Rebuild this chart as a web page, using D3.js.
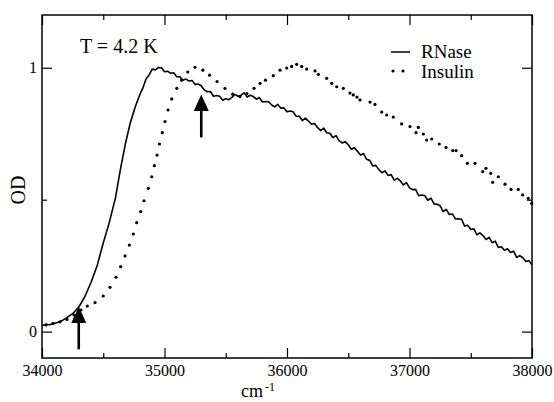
<!DOCTYPE html>
<html>
<head>
<meta charset="utf-8">
<script src="https://cdn.jsdelivr.net/npm/d3@7/dist/d3.min.js"></script>
<style>
  html, body { margin: 0; padding: 0; background: #fff; }
  svg { display: block; }
</style>
</head>
<body>
<svg id="chart" width="554" height="402"></svg>
<script>
// Wavenumber (cm^-1) and optical density of the RNase spectrum
const rnase = [
  [34000,.022],[34030,.028],[34060,.026],[34100,.031],[34150,.038],[34200,.052],[34250,.068],
  [34300,.093],[34350,.133],[34400,.186],[34450,.25],[34500,.336],[34550,.415],[34600,.508],
  [34640,.615],[34680,.71],[34720,.79],[34760,.85],[34800,.9],[34825,.925],
  [34850,.958],[34875,.973],[34900,.995],[34925,.992],[34950,1.001],[34975,1.0],[35000,.985],
  [35025,.987],[35050,.979],[35075,.981],[35100,.966],[35125,.966],[35150,.953],[35175,.957],
  [35200,.95],[35225,.952],[35250,.937],[35275,.938],[35300,.932],[35325,.916],[35350,.909],
  [35375,.91],[35400,.892],[35425,.895],[35450,.892],[35475,.877],[35500,.883],[35525,.879],
  [35550,.888],[35575,.899],[35600,.892],[35625,.896],[35650,.905],[35675,.889],[35700,.896],
  [35725,.891],[35750,.881],[35775,.887],[35800,.87],[35825,.872],[35850,.871],[35875,.859],
  [35900,.852],[35925,.861],[35950,.847],[35975,.848],[36000,.833],[36025,.836],[36050,.833],
  [36075,.816],[36100,.816],[36125,.8],[36150,.809],[36175,.798],[36200,.786],[36225,.789],
  [36250,.773],[36275,.762],[36300,.771],[36325,.754],[36350,.752],[36375,.735],[36400,.743],
  [36425,.724],[36450,.715],[36475,.72],[36500,.708],[36525,.691],[36550,.697],[36575,.684],
  [36600,.669],[36625,.675],[36650,.653],[36675,.649],[36700,.628],[36725,.63],[36750,.614],
  [36775,.602],[36800,.609],[36825,.592],[36850,.595],[36875,.574],[36900,.581],[36925,.571],
  [36950,.556],[36975,.565],[37000,.545],[37025,.538],[37050,.539],[37075,.515],[37100,.518],
  [37125,.515],[37150,.498],[37175,.506],[37200,.484],[37225,.483],[37250,.477],[37275,.455],
  [37300,.463],[37325,.444],[37350,.446],[37375,.427],[37400,.428],[37425,.426],[37450,.4],
  [37475,.403],[37500,.387],[37525,.39],[37550,.367],[37575,.374],[37600,.364],[37625,.349],
  [37650,.357],[37675,.337],[37700,.343],[37725,.319],[37750,.322],[37775,.308],[37800,.314],
  [37825,.3],[37850,.305],[37875,.281],[37900,.288],[37925,.28],[37950,.266],[37975,.269],
  [38000,.253]
];

// Wavenumber (cm^-1) and optical density of the Insulin spectrum (dotted trace)
const insulin = [
  [34033,.025],[34090,.031],[34147,.037],[34204,.046],[34261,.063],[34318,.082],[34370,.097],
  [34433,.11],[34500,.135],[34555,.168],[34604,.206],[34642,.246],[34678,.287],[34713,.328],
  [34745,.37],[34773,.413],[34806,.455],[34833,.496],[34868,.543],[34896,.587],[34917,.629],
  [34939,.669],[34959,.711],[34982,.754],[35004,.796],[35029,.84],[35059,.882],[35100,.922],
  [35140,.953],[35190,.984],[35249,1.002],[35313,.991],[35368,.972],[35429,.948],[35494,.922],
  [35557,.9],[35616,.891],[35673,.902],[35731,.922],[35780,.941],[35824,.953],[35888,.97],
  [35943,.991],[35998,.999],[36038,1.005],[36079,1.013],[36120,1.005],[36161,.995],[36229,.988],
  [36256,.975],[36324,.96],[36365,.941],[36406,.928],[36460,.922],[36514,.904],[36541,.897],
  [36571,.889],[36596,.878],[36678,.87],[36718,.861],[36773,.832],[36814,.821],[36868,.813],
  [36936,.787],[37004,.777],[37053,.754],[37072,.774],[37113,.749],[37140,.726],[37181,.73],
  [37243,.711],[37298,.698],[37353,.686],[37380,.686],[37426,.667],[37472,.638],[37535,.638],
  [37598,.606],[37624,.619],[37663,.6],[37679,.566],[37725,.587],[37780,.559],[37829,.539],
  [37888,.539],[37924,.518],[37970,.505],[37998,.486]
];

const xMajorTicks = [34000, 35000, 36000, 37000, 38000];
const xMinorTicks = [34500, 35500, 36500, 37500];
const yMajorTicks = [0, 1];
const yMinorTicks = [0.5];

// Arrows marking features of the spectra: [wavenumber, tail OD, tip OD]
const arrows = [[34300, -0.067, 0.095], [35300, 0.736, 0.899]];

const seriesNames = ["RNase", "Insulin"];

const SERIF = "Liberation Serif, DejaVu Serif, Noto Serif, Tinos, FreeSerif, Nimbus Roman, Times New Roman, Times, serif";

const svg = d3.select("#chart").style("font-family", SERIF);
const margin = { left: 42, right: 22, top: 15, bottom: 44 };
const W = 554, H = 402;

const x = d3.scaleLinear().domain([34000, 38000]).range([margin.left, W - margin.right]);
const y = d3.scaleLinear().domain([-0.1, 1.2]).range([H - margin.bottom, margin.top]);

const x0 = x.range()[0], x1 = x.range()[1], y0 = y.range()[0], y1 = y.range()[1];

function styleAxis(g) {
  g.attr("font-family", null).style("font-family", SERIF);
  g.select(".domain").remove();
  g.selectAll(".tick line").attr("stroke", "#000").attr("stroke-width", 1.2);
  g.selectAll(".tick text").style("font-family", SERIF).attr("fill", "#000");
}

// bottom axis with labels, ticks pointing into the frame
svg.append("g").attr("transform", `translate(0,${y0})`)
  .call(d3.axisBottom(x).tickValues(xMajorTicks).tickSize(-10).tickPadding(6.5)
    .tickFormat(d3.format("d")))
  .call(styleAxis)
  .call(g => g.selectAll(".tick text").style("font-size", "16px"));
svg.append("g").attr("transform", `translate(0,${y0})`)
  .call(d3.axisBottom(x).tickValues(xMinorTicks).tickSize(-5).tickFormat(""))
  .call(styleAxis);
// top axis ticks
svg.append("g").attr("transform", `translate(0,${y1})`)
  .call(d3.axisTop(x).tickValues(xMajorTicks).tickSize(-10).tickFormat(""))
  .call(styleAxis);
svg.append("g").attr("transform", `translate(0,${y1})`)
  .call(d3.axisTop(x).tickValues(xMinorTicks).tickSize(-5).tickFormat(""))
  .call(styleAxis);
// left axis with labels
svg.append("g").attr("transform", `translate(${x0},0)`)
  .call(d3.axisLeft(y).tickValues(yMajorTicks).tickSize(-10).tickPadding(5)
    .tickFormat(d3.format("d")))
  .call(styleAxis)
  .call(g => g.selectAll(".tick text").style("font-size", "16px"));
svg.append("g").attr("transform", `translate(${x0},0)`)
  .call(d3.axisLeft(y).tickValues(yMinorTicks).tickSize(-5).tickFormat(""))
  .call(styleAxis);
// right axis ticks
svg.append("g").attr("transform", `translate(${x1},0)`)
  .call(d3.axisRight(y).tickValues(yMajorTicks).tickSize(-10).tickFormat(""))
  .call(styleAxis);
svg.append("g").attr("transform", `translate(${x1},0)`)
  .call(d3.axisRight(y).tickValues(yMinorTicks).tickSize(-5).tickFormat(""))
  .call(styleAxis);

// plot frame
svg.append("rect")
  .attr("x", x0).attr("y", y1).attr("width", x1 - x0).attr("height", y0 - y1)
  .attr("fill", "none").attr("stroke", "#000").attr("stroke-width", 1.5);

// RNase: solid line
const line = d3.line().x(d => x(d[0])).y(d => y(d[1]));
svg.append("path").datum(rnase)
  .attr("d", line)
  .attr("fill", "none").attr("stroke", "#000").attr("stroke-width", 1.6)
  .attr("stroke-linejoin", "round");

// Insulin: dots
svg.append("g").selectAll("circle").data(insulin).join("circle")
  .attr("cx", d => x(d[0])).attr("cy", d => y(d[1])).attr("r", 1.6).attr("fill", "#000");

// arrows
const arrowG = svg.append("g");
arrows.forEach(([wn, tail, tip]) => {
  const ax = x(wn), ty = y(tip), by = y(tail);
  const headH = 16.5, headW = 15;
  arrowG.append("line")
    .attr("x1", ax).attr("x2", ax).attr("y1", by).attr("y2", ty + headH - 1)
    .attr("stroke", "#000").attr("stroke-width", 2.6);
  arrowG.append("path")
    .attr("d", `M${ax},${ty} L${ax - headW / 2},${ty + headH} L${ax + headW / 2},${ty + headH} Z`)
    .attr("fill", "#000");
});

// legend
const legend = svg.append("g");
legend.append("line").attr("x1", 391).attr("x2", 410).attr("y1", 52).attr("y2", 52)
  .attr("stroke", "#000").attr("stroke-width", 1.5);
[393, 403].forEach(cx => legend.append("circle").attr("cx", cx).attr("cy", 71).attr("r", 1.6).attr("fill", "#000"));
legend.append("text").attr("x", 421).attr("y", 58).style("font-size", "19px").text(seriesNames[0]);
legend.append("text").attr("x", 421).attr("y", 78).style("font-size", "19px").text(seriesNames[1]);

// temperature annotation
svg.append("text").attr("x", 80).attr("y", 53).style("font-size", "20px").text("T = 4.2 K");

// axis titles
svg.append("text").attr("transform", "translate(25,190) rotate(-90)")
  .attr("text-anchor", "middle").style("font-size", "20px").text("OD");
const xt = svg.append("text").attr("x", 241).attr("y", 397).style("font-size", "18px");
xt.append("tspan").text("cm");
xt.append("tspan").attr("dx", 2).attr("dy", -6).style("font-size", "12px").text("-1");
</script>
</body>
</html>
